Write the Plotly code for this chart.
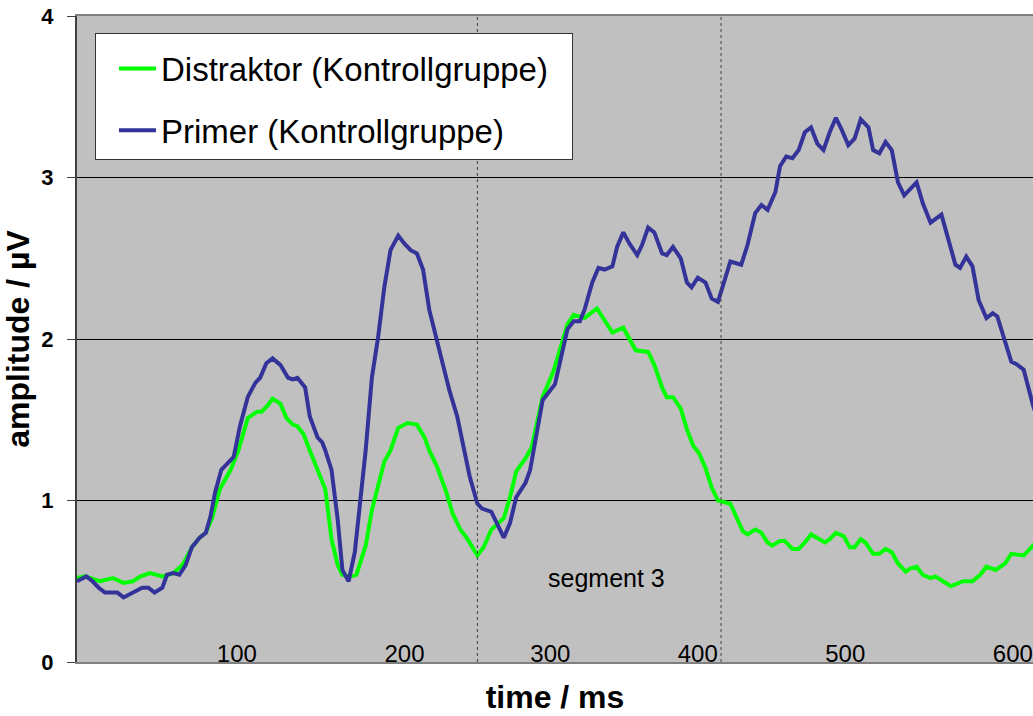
import plotly.graph_objects as go

# Distraktor (Kontrollgruppe) - time (ms) / amplitude (µV)
distraktor_t = [0, 5, 15, 23, 30, 36, 41, 47, 55, 62, 68, 74, 79, 83, 87, 92, 99, 104, 110, 116,
                119, 123, 126, 131, 135, 139, 142, 146, 150, 155, 160, 164, 168, 171, 176, 180, 186, 190, 195, 198,
                202, 207, 213, 219, 224, 227, 232, 238, 242, 247, 251, 255, 258, 262, 267, 275, 279, 283, 289, 293,
                300, 307, 313, 316, 320, 327, 335, 345, 352, 360, 368, 372, 377, 380, 384, 389, 393, 397, 401, 405,
                409, 413, 421, 425, 429, 432, 437, 441, 445, 448, 453, 456, 461, 465, 469, 473, 477, 482, 485, 489,
                494, 498, 501, 505, 508, 513, 517, 521, 525, 529, 534, 537, 541, 545, 550, 553, 558, 563, 566, 571,
                577, 582, 586, 592, 598, 602, 610, 615, 620]
distraktor_v = [0.52, 0.53, 0.50, 0.52, 0.49, 0.50, 0.53, 0.55, 0.53, 0.55, 0.60, 0.71, 0.77, 0.80, 0.89, 1.07, 1.19, 1.31, 1.51, 1.55,
                1.55, 1.59, 1.63, 1.60, 1.51, 1.47, 1.46, 1.41, 1.31, 1.19, 1.07, 0.76, 0.60, 0.54, 0.53, 0.54, 0.72, 0.94, 1.13, 1.24,
                1.31, 1.45, 1.48, 1.47, 1.39, 1.31, 1.21, 1.05, 0.92, 0.82, 0.77, 0.71, 0.66, 0.71, 0.82, 0.89, 1.02, 1.18, 1.26, 1.33,
                1.64, 1.80, 1.99, 2.09, 2.15, 2.13, 2.19, 2.04, 2.07, 1.93, 1.92, 1.84, 1.70, 1.64, 1.64, 1.57, 1.44, 1.34, 1.29, 1.20,
                1.08, 1.00, 0.98, 0.90, 0.81, 0.79, 0.82, 0.80, 0.74, 0.72, 0.75, 0.75, 0.70, 0.70, 0.74, 0.79, 0.77, 0.74, 0.76, 0.80,
                0.78, 0.71, 0.71, 0.76, 0.74, 0.67, 0.67, 0.70, 0.68, 0.61, 0.56, 0.58, 0.59, 0.54, 0.52, 0.53, 0.50, 0.47, 0.48, 0.50,
                0.50, 0.54, 0.59, 0.57, 0.61, 0.67, 0.66, 0.71, 0.76]

# Primer (Kontrollgruppe)
primer_t = [0, 6, 10, 14, 18, 26, 30, 36, 42, 46, 50, 55, 58, 62, 66, 70, 74, 79, 83, 86,
            89, 93, 97, 101, 105, 110, 115, 118, 122, 126, 131, 136, 139, 142, 147, 150, 155, 158, 160, 164,
            168, 171, 175, 179, 186, 190, 194, 198, 202, 207, 211, 215, 219, 223, 227, 232, 236, 240, 245, 248,
            253, 258, 261, 267, 271, 275, 279, 283, 289, 292, 300, 308, 316, 320, 324, 327, 332, 336, 340, 345,
            348, 352, 356, 361, 364, 368, 372, 377, 380, 384, 389, 393, 396, 400, 405, 409, 413, 416, 421, 428,
            432, 437, 441, 445, 450, 453, 457, 461, 465, 469, 473, 477, 481, 485, 489, 493, 497, 501, 505, 510,
            513, 517, 521, 525, 529, 533, 538, 541, 545, 550, 557, 561, 566, 569, 573, 577, 581, 586, 590, 593,
            598, 602, 606, 610, 613, 616, 620]
primer_v = [0.50, 0.53, 0.50, 0.46, 0.43, 0.43, 0.40, 0.43, 0.46, 0.46, 0.43, 0.46, 0.54, 0.55, 0.54, 0.60, 0.71, 0.77, 0.80, 0.90,
            1.05, 1.19, 1.23, 1.27, 1.46, 1.64, 1.73, 1.76, 1.85, 1.88, 1.84, 1.76, 1.75, 1.76, 1.70, 1.52, 1.39, 1.36, 1.31, 1.19,
            0.88, 0.57, 0.50, 0.68, 1.31, 1.76, 2.01, 2.32, 2.55, 2.64, 2.59, 2.55, 2.53, 2.43, 2.18, 1.99, 1.83, 1.68, 1.52, 1.37,
            1.15, 0.98, 0.95, 0.93, 0.85, 0.77, 0.86, 1.02, 1.11, 1.19, 1.62, 1.72, 2.06, 2.11, 2.11, 2.18, 2.35, 2.44, 2.43, 2.45,
            2.57, 2.66, 2.59, 2.52, 2.58, 2.69, 2.66, 2.53, 2.52, 2.57, 2.50, 2.35, 2.32, 2.38, 2.35, 2.25, 2.23, 2.33, 2.48, 2.46,
            2.58, 2.78, 2.83, 2.80, 2.91, 3.07, 3.13, 3.12, 3.17, 3.28, 3.31, 3.21, 3.17, 3.28, 3.37, 3.29, 3.20, 3.24, 3.36, 3.31,
            3.17, 3.15, 3.22, 3.17, 2.97, 2.89, 2.94, 2.97, 2.84, 2.72, 2.77, 2.64, 2.46, 2.44, 2.51, 2.45, 2.24, 2.13, 2.16, 2.14,
            1.98, 1.86, 1.84, 1.81, 1.70, 1.59, 1.47]

x_tick_vals = [103, 211, 305, 400, 495, 603]
x_tick_text = ["100", "200", "300", "400", "500", "600"]
y_tick_vals = [0, 1, 2, 3, 4]
segment_bounds = [258, 415]

FONT = "Liberation Sans, Arial, sans-serif"
PAD = "\u00a0\u00a0"

fig = go.Figure()
fig.add_trace(go.Scatter(x=distraktor_t, y=distraktor_v, mode="lines",
                         name="Distraktor (Kontrollgruppe)" + PAD, legendgroup="a",
                         line=dict(color="#00FF00", width=4)))
fig.add_trace(go.Scatter(x=primer_t, y=primer_v, mode="lines",
                         name="Primer (Kontrollgruppe)" + PAD, legendgroup="b",
                         line=dict(color="#333399", width=4)))

for xb in segment_bounds:
    fig.add_shape(type="line", x0=xb, x1=xb, y0=0, y1=1, xref="x", yref="paper",
                  line=dict(color="#404040", width=1, dash="dot"), layer="above")

fig.add_annotation(x=341, y=0.52, text="segment 3", showarrow=False,
                   font=dict(family=FONT, size=25, color="black"))

fig.update_layout(
    width=1033, height=716,
    margin=dict(l=77, r=0, t=16, b=54),
    paper_bgcolor="white", plot_bgcolor="#C0C0C0",
    font=dict(family=FONT, color="black"),
    showlegend=True,
    legend=dict(x=0.0188, y=0.9737, xanchor="left", yanchor="top",
                bgcolor="white", bordercolor="#333333", borderwidth=1,
                font=dict(family=FONT, size=33, color="black"),
                title=dict(text=" ", font=dict(size=5)),
                indentation=18,
                traceorder="grouped", tracegroupgap=16, itemwidth=37),
)
fig.update_xaxes(range=[0, 616], tickvals=x_tick_vals, ticktext=x_tick_text,
                 ticklabelposition="outside", ticklabelstandoff=-31, ticks="",
                 tickfont=dict(family=FONT, size=24, color="black"),
                 showgrid=False, zeroline=False,
                 showline=True, linecolor="#808080", linewidth=2, mirror=True,
                 automargin=False,
                 title=dict(text="<b>time / ms</b>", font=dict(family=FONT, size=32, color="black"),
                            standoff=20))
fig.update_yaxes(range=[0, 4], tickvals=y_tick_vals, ticks="outside", ticklen=8,
                 tickcolor="#404040", tickwidth=1,
                 tickfont=dict(family=FONT, size=22, color="black", weight="bold"),
                 ticklabelstandoff=9,
                 showgrid=True, gridcolor="black", gridwidth=1, zeroline=False,
                 showline=True, linecolor="#404040", linewidth=2,
                 automargin=False,
                 title=dict(text="<b>amplitude / µV</b>", font=dict(family=FONT, size=32, color="black"),
                            standoff=12))

fig.write_html("out.html")
